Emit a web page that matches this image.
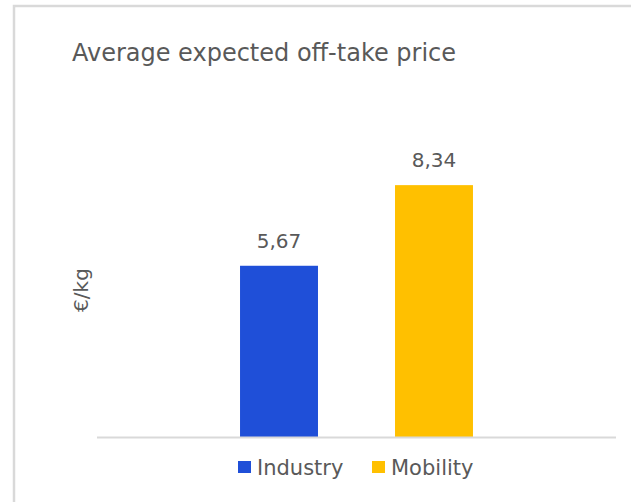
<!DOCTYPE html>
<html>
<head>
<meta charset="utf-8">
<script src="https://cdn.jsdelivr.net/npm/d3@7"></script>
<style>
  body { margin: 0; background: #fff; }
  text { font-family: 'DejaVu Sans', sans-serif; fill: #595959; }
</style>
</head>
<body>
<div id="chart"></div>
<script>
// data
const category = ['']
const series = ['Industry', 'Mobility']
const values = [5.67, 8.34]
const colors = ['#1f4fd8', '#ffc000']

const width = 631
const height = 502

const svg = d3
  .select('#chart')
  .append('svg')
  .attr('width', width)
  .attr('height', height)

// chart frame (cropped on the right and bottom)
svg
  .append('path')
  .attr('d', 'M14,502 V6 H631')
  .attr('fill', 'none')
  .attr('stroke', '#d9d9d9')
  .attr('stroke-width', 2.5)

const plot = { left: 97, right: 616, top: 135, bottom: 437 }

const yScale = d3
  .scaleLinear()
  .domain([0, 10])
  .range([plot.bottom, plot.top])

const xOuter = d3
  .scaleBand()
  .domain(category)
  .range([plot.left, plot.right])
  .paddingInner(0)
  .paddingOuter(0.614)

const xInner = d3
  .scaleBand()
  .domain(series)
  .range([0, xOuter.bandwidth()])
  .paddingInner(0.497)

const fmt = v => d3.format('.2f')(v).replace('.', ',')

const rows = series.map((s, i) => ({ key: s, value: values[i], color: colors[i] }))

// bars
svg
  .selectAll('.bar')
  .data(rows)
  .enter()
  .append('rect')
  .attr('class', 'bar')
  .attr('x', d => xOuter('') + xInner(d.key))
  .attr('y', d => yScale(d.value))
  .attr('width', xInner.bandwidth())
  .attr('height', d => yScale(0) - yScale(d.value))
  .attr('fill', d => d.color)

// value labels
svg
  .selectAll('.val')
  .data(rows)
  .enter()
  .append('text')
  .attr('class', 'val')
  .attr('x', d => xOuter('') + xInner(d.key) + xInner.bandwidth() / 2)
  .attr('y', d => yScale(d.value) - 18)
  .attr('text-anchor', 'middle')
  .attr('font-size', 20)
  .text(d => fmt(d.value))

// baseline
svg
  .append('line')
  .attr('x1', plot.left)
  .attr('x2', plot.right)
  .attr('y1', yScale(0) + 0.5)
  .attr('y2', yScale(0) + 0.5)
  .attr('stroke', '#d9d9d9')
  .attr('stroke-width', 2)

// title
svg
  .append('text')
  .attr('x', 264)
  .attr('y', 61)
  .attr('text-anchor', 'middle')
  .attr('font-size', 24)
  .text('Average expected off-take price')

// y axis title
svg
  .append('text')
  .attr('transform', 'translate(88,290) rotate(-90)')
  .attr('text-anchor', 'middle')
  .attr('font-size', 20)
  .text('€/kg')

// legend
const legendX = [238, 372]
const legend = svg
  .selectAll('.legend-entry')
  .data(rows)
  .enter()
  .append('g')
  .attr('class', 'legend-entry')
  .attr('transform', (d, i) => `translate(${legendX[i]},461)`)

legend
  .append('rect')
  .attr('width', 13)
  .attr('height', 12)
  .attr('fill', d => d.color)

legend
  .append('text')
  .attr('x', 19)
  .attr('y', 14)
  .attr('font-size', 21)
  .text(d => d.key)
</script>
</body>
</html>
